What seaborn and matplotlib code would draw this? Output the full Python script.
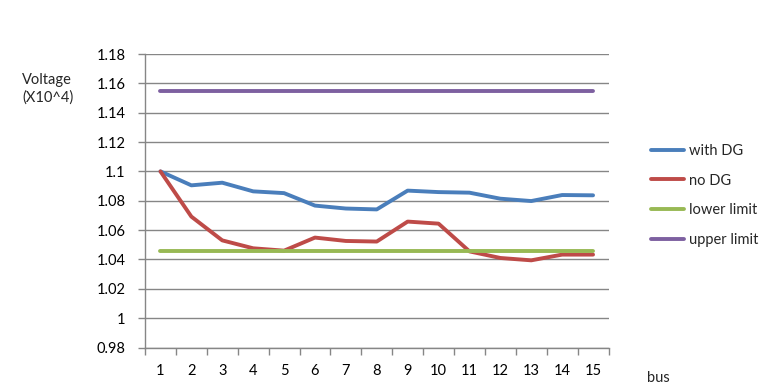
import matplotlib
matplotlib.use("Agg")
import matplotlib.pyplot as plt
import seaborn as sns
import pandas as pd

bus = list(range(1, 16))
with_dg = [1.1, 1.0905, 1.0923, 1.0864, 1.0852, 1.0767, 1.0747, 1.0741,
           1.0869, 1.0859, 1.0855, 1.0814, 1.0798, 1.0839, 1.0837]
no_dg = [1.1, 1.0692, 1.0530, 1.0476, 1.0460, 1.0549, 1.0526, 1.0522,
         1.0658, 1.0644, 1.0455, 1.0410, 1.0394, 1.0433, 1.0433]
lower_limit = [1.0455] * 15
upper_limit = [1.155] * 15
series_names = ["with DG", "no DG", "lower limit", "upper limit"]
colors = ["#4A7EBB", "#BE4B48", "#98B954", "#7D60A0"]
yticks = [0.98, 1.0, 1.02, 1.04, 1.06, 1.08, 1.1, 1.12, 1.14, 1.16, 1.18]
ytick_labels = ["0.98", "1", "1.02", "1.04", "1.06", "1.08", "1.1", "1.12",
                "1.14", "1.16", "1.18"]

df = pd.DataFrame({
    "bus": bus * 4,
    "voltage": with_dg + no_dg + lower_limit + upper_limit,
    "series": sum([[n] * 15 for n in series_names], []),
})

sns.set_theme(style="white")
plt.rcParams["font.family"] = ["Lato", "DejaVu Sans"]

fig = plt.figure(figsize=(7.7, 3.9), dpi=100)
ax = fig.add_axes([145 / 770, 1 - 347.5 / 390, (608.5 - 145) / 770, (347.5 - 54) / 390])

sns.lineplot(data=df, x="bus", y="voltage", hue="series", hue_order=series_names,
             palette=colors, linewidth=2.8, ax=ax, legend=True)

ax.set_xlim(0.5, 15.5)
ax.set_ylim(0.98, 1.18)
ax.set_yticks(yticks)
ax.set_yticklabels(ytick_labels)
ax.set_xticks(bus)
ax.set_xticks([b + 0.5 for b in [0] + bus], minor=True)
ax.tick_params(axis="x", which="major", length=0, pad=12, labelsize=10.5, colors="black")
ax.tick_params(axis="x", which="minor", length=5, width=1, color="#868686", direction="out", bottom=True)
ax.tick_params(axis="y", which="major", length=5, width=1, color="#868686", direction="out",
               left=True, pad=9, labelsize=10.5, labelcolor="black")
ax.grid(axis="y", color="#868686", linewidth=1)
ax.set_axisbelow(True)
for s in ["top", "right"]:
    ax.spines[s].set_visible(False)
for s in ["left", "bottom"]:
    ax.spines[s].set_color("#868686")
    ax.spines[s].set_linewidth(1)
ax.set_xlabel("")
ax.set_ylabel("")

handles, labels = ax.get_legend_handles_labels()
ax.legend(handles, labels, loc="upper left", bbox_to_anchor=(645 / 770, 1 - 138 / 390),
          bbox_transform=fig.transFigure, frameon=False, fontsize=10.5,
          handlelength=2.3, handletextpad=0.3, labelspacing=1.08, borderaxespad=0)

fig.text(22 / 770, 1 - 89 / 390, "Voltage\n(X10^4)", fontsize=10.5, ha="left", va="center",
         linespacing=1.25)
fig.text(647 / 770, 1 - 378 / 390, "bus", fontsize=10.5, ha="left", va="center")

fig.savefig("out.png", dpi=100)
